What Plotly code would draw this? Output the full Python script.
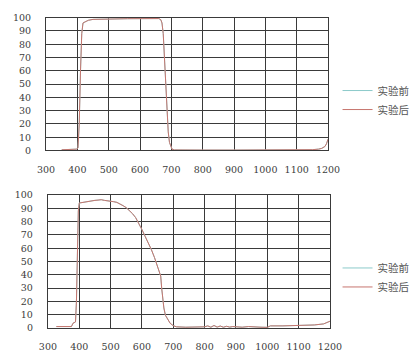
import plotly.graph_objects as go

# ---- data ----
wl_top = [350, 370, 390, 398, 402, 406, 410, 414, 418, 425, 435, 450, 480, 520, 560, 600, 640, 660, 666, 670, 674, 678, 682, 686, 690, 694, 698, 702, 710, 730, 800, 900, 1000, 1100, 1150, 1170, 1180, 1190, 1195, 1200]
top_after = [0.5, 0.6, 0.8, 1.0, 2, 20, 60, 88, 96, 97, 98, 98.7, 99, 99, 99.2, 99.3, 99.5, 99.3, 98.5, 96, 88, 70, 48, 28, 14, 6, 2.5, 1.0, 0.4, 0.3, 0.3, 0.3, 0.3, 0.4, 0.6, 1.0, 1.6, 3.0, 5.0, 8.5]
top_before = [0.5, 0.6, 0.8, 1.0, 2, 20, 60, 88, 96, 97, 98, 98.7, 99, 99, 99.2, 99.3, 99.5, 99.3, 98.5, 96, 88, 70, 48, 28, 14, 6, 2.5, 1.0, 0.4, 0.3, 0.3, 0.3, 0.3, 0.4, 0.6, 1.0, 1.6, 3.0, 5.0, 8.5]

wl_bot = [327, 340, 355, 370, 375, 380, 385, 388, 391, 394, 397, 400, 410, 420, 430, 440, 450, 460, 470, 480, 490, 500, 510, 520, 530, 540, 550, 560, 570, 580, 590, 600, 610, 620, 630, 640, 650, 655, 660, 663, 666, 670, 675, 683, 690, 699, 710, 740, 780, 800, 810, 820, 830, 840, 850, 860, 870, 880, 890, 900, 920, 940, 960, 980, 1000, 1010, 1050, 1100, 1150, 1180, 1200]
bot_after = [1.0, 1.0, 1.2, 0.8, 1.0, 3.5, 4.0, 4.5, 20, 60, 88, 94, 94.5, 95, 95.3, 95.8, 96, 96.2, 96.5, 96, 95.8, 95.5, 95, 94.5, 93.5, 92, 90.5, 88.5, 86, 83, 79, 74, 69, 64.5, 59, 53, 46.5, 43, 39, 30, 22, 15, 9.5, 6, 3.5, 1.8, 0.8, 0.5, 0.5, 0.8, 1.5, 0.5, 1.8, 0.6, 1.4, 0.5, 1.2, 0.6, 1.0, 0.8, 0.5, 1.0, 0.6, 0.5, 0.4, 1.5, 1.5, 1.6, 2.2, 3.0, 5.0]
bot_before = [1.0, 1.0, 1.2, 0.8, 1.0, 3.5, 4.0, 4.5, 20, 60, 88, 94, 94.5, 95, 95.3, 95.8, 96, 96.2, 96.5, 96, 95.8, 95.5, 95, 94.5, 93.5, 92, 90.5, 88.5, 86, 83, 79, 74, 69, 64.5, 59, 53, 46.5, 43, 39, 30, 22, 15, 9.5, 6, 3.5, 1.8, 0.8, 0.5, 0.5, 0.8, 1.5, 0.5, 1.8, 0.6, 1.4, 0.5, 1.2, 0.6, 1.0, 0.8, 0.5, 1.0, 0.6, 0.5, 0.4, 1.5, 1.5, 1.6, 2.2, 3.0, 5.0]

series_names = ["实验前", "实验后"]
x_ticks = [300, 400, 500, 600, 700, 800, 900, 1000, 1100, 1200]
y_ticks = [0, 10, 20, 30, 40, 50, 60, 70, 80, 90, 100]

c_before = "#8ccaca"
c_after = "#c7756e"

fig = go.Figure()
fig.add_trace(go.Scatter(x=wl_top, y=top_before, name=series_names[0], mode="lines",
                         line=dict(color=c_before, width=1), xaxis="x", yaxis="y", legend="legend"))
fig.add_trace(go.Scatter(x=wl_top, y=top_after, name=series_names[1], mode="lines",
                         line=dict(color=c_after, width=1), xaxis="x", yaxis="y", legend="legend"))
fig.add_trace(go.Scatter(x=wl_bot, y=bot_before, name=series_names[0], mode="lines",
                         line=dict(color=c_before, width=1), xaxis="x2", yaxis="y2", legend="legend2"))
fig.add_trace(go.Scatter(x=wl_bot, y=bot_after, name=series_names[1], mode="lines",
                         line=dict(color=c_after, width=1), xaxis="x2", yaxis="y2", legend="legend2"))

W, H = 416, 361
tickfont = dict(family="DejaVu Serif", size=9.5, color="#3c3c3c")
grid = dict(showgrid=True, gridcolor="#3a3a3a", gridwidth=1.2, zeroline=False,
            showline=True, linecolor="#3a3a3a", linewidth=1.2, mirror=True,
            ticks="", tickfont=tickfont, fixedrange=True)

def xa(d, anchor):
    return dict(domain=d, range=[300, 1200], tickvals=x_ticks, anchor=anchor, ticklabelstandoff=10, **grid)

def ya(d, anchor):
    return dict(domain=d, range=[0, 100], tickvals=y_ticks, anchor=anchor, ticklabelstandoff=12, **grid)

legfont = dict(family="Noto Sans CJK SC", size=10.5, color="#555555")
fig.update_layout(
    width=W, height=H, margin=dict(l=0, r=0, t=0, b=0),
    paper_bgcolor="white", plot_bgcolor="white",
    xaxis=xa([39 / W, 336 / W], "y"),
    yaxis=ya([1 - 149 / H, 1 - 12 / H], "x"),
    xaxis2=xa([41 / W, 338 / W], "y2"),
    yaxis2=ya([1 - 332 / H, 1 - 195 / H], "x2"),
    legend=dict(x=346 / W, y=1 - 97 / H, xanchor="left", yanchor="middle", font=legfont,
                bgcolor="rgba(0,0,0,0)", itemwidth=30, tracegroupgap=0),
    legend2=dict(x=346 / W, y=1 - 280 / H, xanchor="left", yanchor="middle", font=legfont,
                 bgcolor="rgba(0,0,0,0)", itemwidth=30, tracegroupgap=0),
    showlegend=True,
)

fig.write_html("out.html")
